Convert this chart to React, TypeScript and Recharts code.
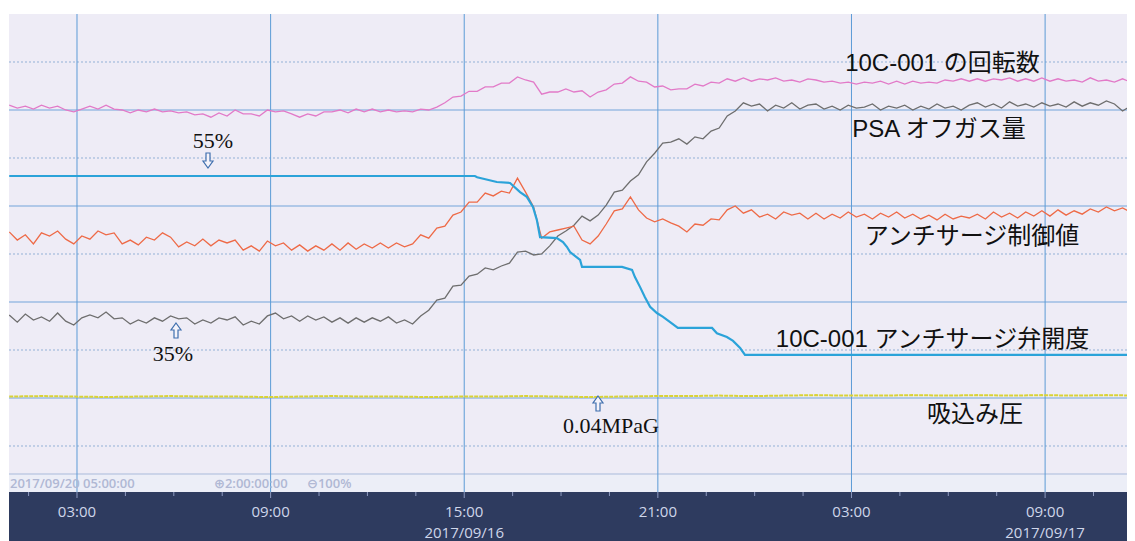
import React from 'react';
import { LineChart, Line, XAxis, YAxis, ReferenceLine, ReferenceArea } from 'recharts';

// ---- time axis (hours from 2017/09/16 00:00) ----
const xDomain: [number, number] = [0.893, 35.786];
const hourTicks = [1.5, 3, 4.5, 6, 7.5, 9, 10.5, 12, 13.5, 15, 16.5, 18, 19.5, 21, 22.5, 24, 25.5, 27, 28.5, 30, 31.5, 33, 34.5];
const labelHours = [3, 9, 15, 21, 27, 33];
const timeLabels = ['03:00', '09:00', '15:00', '21:00', '03:00', '09:00'];
const dateLabels = ['', '', '2017/09/16', '', '', '2017/09/17'];

// ---- vertical scale (percent of chart span) ----
const yDomain: [number, number] = [0.4167, 100];
const solidGridValues = [20, 40, 60, 80];
const dottedGridValues = [10, 30, 50, 70, 90];
const infoBarTop = 4.1667;

// ---- sampled trend series (every 0.25 h from 00:54) ----
const sampleStart = 0.9;
const sampleStep = 0.25;

const pinkValues = [
  81.0, 80.4, 80.8, 80.2, 81.0, 80.4, 80.8, 80.0, 79.6, 80.2,
  80.8, 80.2, 81.0, 80.2, 80.0, 79.4, 80.0, 79.6, 80.2, 79.6,
  79.8, 79.4, 79.6, 79.0, 79.2, 78.5, 79.4, 78.75, 80.0, 79.2,
  79.2, 78.75, 80.0, 79.6, 79.8, 79.2, 78.5, 79.2, 78.75, 79.6,
  79.6, 80.0, 79.4, 80.2, 79.6, 80.2, 79.6, 80.0, 79.6, 79.8,
  79.6, 80.2, 80.0, 80.6, 81.5, 82.7, 82.9, 83.9, 83.9, 84.8,
  84.8, 85.6, 85.6, 86.9, 86.25, 85.8, 83.3, 83.75, 83.75, 84.4,
  83.75, 84.0, 82.7, 83.75, 84.2, 85.4, 85.6, 86.9, 86.0, 85.8,
  84.8, 85.0, 84.2, 84.4, 84.4, 85.4, 85.0, 85.8, 85.6, 86.5,
  86.0, 86.7, 86.0, 86.5, 86.25, 86.7, 86.0, 86.25, 85.8, 86.5,
  86.25, 85.8, 86.0, 85.6, 85.8, 85.4, 85.8, 85.6, 86.0, 85.4,
  86.0, 85.4, 86.0, 85.6, 85.8, 85.6, 86.25, 86.0, 86.5, 86.0,
  86.5, 86.0, 86.5, 86.25, 86.7, 86.0, 86.5, 86.0, 86.7, 86.0,
  86.5, 86.0, 86.25, 85.8, 86.7, 86.0, 86.25, 85.8, 86.5, 85.8, 86.25,
];

const grayValues = [
  37.3, 35.8, 37.5, 36.25, 36.9, 36.0, 37.7, 36.0, 35.2, 36.7,
  37.3, 36.7, 37.9, 36.5, 36.7, 35.4, 36.25, 35.6, 36.7, 36.0,
  37.1, 36.5, 36.7, 35.4, 36.25, 35.6, 36.7, 36.25, 36.9, 35.2,
  36.0, 35.4, 37.1, 37.7, 36.5, 37.1, 36.0, 37.1, 36.25, 36.9,
  35.8, 36.7, 35.6, 36.7, 35.8, 36.7, 36.0, 36.9, 35.6, 36.25,
  35.4, 37.1, 38.3, 40.4, 40.8, 43.3, 43.5, 45.4, 45.8, 47.1,
  46.7, 47.5, 48.1, 50.4, 50.6, 49.8, 50.0, 51.7, 53.75, 54.8,
  56.0, 57.9, 56.9, 58.1, 60.2, 62.9, 63.3, 65.2, 66.5, 69.2,
  71.0, 73.1, 73.3, 74.0, 72.9, 74.4, 74.0, 75.6, 76.25, 78.75,
  79.8, 81.5, 80.8, 81.25, 79.8, 81.0, 80.4, 81.5, 80.2, 81.0,
  81.25, 80.2, 80.8, 80.0, 81.0, 80.4, 80.6, 81.25, 80.0, 80.8,
  80.4, 81.0, 80.0, 80.8, 80.2, 81.25, 80.4, 80.8, 80.0, 81.0,
  81.5, 80.6, 81.25, 80.4, 81.7, 80.8, 81.25, 80.6, 81.5, 80.8,
  81.25, 80.6, 81.7, 80.8, 81.5, 81.0, 81.9, 81.25, 79.8, 80.8, 81.25,
];

const orangeValues = [
  54.6, 52.9, 54.0, 52.1, 54.4, 53.75, 54.8, 53.1, 52.1, 53.75,
  53.1, 54.8, 54.0, 54.4, 52.1, 52.9, 51.9, 53.5, 52.9, 54.4,
  53.5, 51.5, 52.5, 51.7, 53.1, 51.7, 52.9, 52.3, 52.9, 50.8,
  51.7, 50.6, 52.7, 51.7, 52.3, 50.8, 51.9, 50.6, 51.7, 50.8,
  52.1, 50.8, 52.3, 51.0, 52.1, 51.25, 52.3, 51.25, 52.3, 51.5,
  52.1, 54.0, 53.3, 55.4, 55.8, 58.1, 58.75, 60.8, 60.8, 62.7,
  62.1, 63.1, 62.7, 65.8, 62.9, 59.8, 53.3, 54.6, 55.0, 55.4,
  55.8, 52.9, 52.1, 53.75, 56.25, 59.0, 59.4, 61.9, 59.2, 57.5,
  56.7, 57.3, 56.5, 55.8, 54.6, 56.25, 56.0, 57.3, 57.1, 59.2,
  60.0, 58.5, 59.2, 57.7, 58.3, 57.3, 58.75, 58.1, 58.5, 57.3,
  58.5, 57.3, 58.3, 57.5, 58.75, 57.7, 58.3, 57.3, 58.5, 57.7,
  58.75, 57.5, 58.3, 57.3, 58.1, 57.1, 58.3, 57.3, 57.9, 57.5,
  58.3, 57.3, 58.75, 57.7, 58.5, 57.5, 58.75, 57.9, 59.0, 57.9,
  59.2, 58.1, 59.0, 58.3, 59.4, 58.75, 59.8, 59.0, 59.6, 58.75, 59.4,
];

// ---- valve opening (stepwise) ----
const blueTimes = [
  0.9, 15.33, 15.4, 16.01, 16.42, 16.73, 16.94, 17.13, 17.25, 17.35, 17.87, 18.06, 18.18, 18.28,
  18.59, 18.65, 19.89, 20.2, 20.29, 20.45, 20.6, 20.76, 20.97, 21.16, 21.38, 21.62, 22.68, 22.83,
  23.14, 23.33, 23.55, 23.7, 35.79,
];
const blueValues = [
  66.25, 66.25, 66.0, 65.0, 64.8, 62.9, 61.9, 59.8, 57.1, 53.5, 53.3, 52.5, 51.5, 50.4,
  48.75, 47.3, 47.3, 46.7, 45.2, 43.1, 41.0, 39.0, 37.7, 36.9, 35.8, 34.6, 34.6, 33.5,
  32.7, 31.9, 30.4, 29.0, 29.0,
];

// ---- suction pressure (hourly) ----
const yellowStart = 0.9;
const yellowStep = 1;
const yellowValues = [
  20.3, 20.4, 20.3, 20.2, 20.3, 20.4, 20.3, 20.3, 20.2, 20.3, 20.4, 20.3,
  20.3, 20.2, 20.3, 20.3, 20.4, 20.3, 20.2, 20.3, 20.4, 20.4, 20.5, 20.4,
  20.5, 20.6, 20.5, 20.5, 20.6, 20.5, 20.6, 20.5, 20.6, 20.5, 20.6, 20.5,
];

const seriesRows = pinkValues.map((p, k) => ({
  t: sampleStart + sampleStep * k,
  pink: p,
  gray: grayValues[k],
  orange: orangeValues[k],
}));
const blueRows = blueTimes.map((t, i) => ({ t, valve: blueValues[i] }));
const yellowRows = yellowValues.map((v, i) => ({ t: yellowStart + yellowStep * i, suction: v }));

const W = 1127;
const H = 533;

const AxisTick = (props: any) => {
  const { x, y, payload } = props;
  const h = payload.value;
  const i = labelHours.indexOf(h);
  const font = "'Open Sans', 'DejaVu Sans', sans-serif";
  return (
    <g>
      <line x1={x} x2={x} y1={y} y2={y + (i >= 0 ? 6 : 4)} stroke="#8e9ac0" strokeWidth={1} />
      {i >= 0 && (
        <text x={x} y={y + 19} textAnchor="middle" dominantBaseline="central" fill="#cfd6ea" fontSize={15} fontFamily={font}>
          {timeLabels[i]}
        </text>
      )}
      {i >= 0 && dateLabels[i] !== '' && (
        <text x={x} y={y + 40} textAnchor="middle" dominantBaseline="central" fill="#cfd6ea" fontSize={15} fontFamily={font}>
          {dateLabels[i]}
        </text>
      )}
    </g>
  );
};

const sansJP = "'Liberation Sans', Arial, 'Noto Sans CJK JP', sans-serif";
const serif = "'Liberation Serif', 'DejaVu Serif', serif";

const DownArrow = ({ cx, top }: { cx: number; top: number }) => (
  <path
    d={`M${cx - 2},${top} L${cx + 2},${top} L${cx + 2},${top + 8} L${cx + 5},${top + 8} L${cx},${top + 15} L${cx - 5},${top + 8} L${cx - 2},${top + 8} Z`}
    fill="#f4f3fa"
    stroke="#3f6fae"
    strokeWidth={1.2}
  />
);
const UpArrow = ({ cx, top }: { cx: number; top: number }) => (
  <path
    d={`M${cx},${top} L${cx + 5},${top + 7} L${cx + 2},${top + 7} L${cx + 2},${top + 15} L${cx - 2},${top + 15} L${cx - 2},${top + 7} L${cx - 5},${top + 7} Z`}
    fill="#f4f3fa"
    stroke="#3f6fae"
    strokeWidth={1.2}
  />
);

export default function App() {
  return (
    <div style={{ position: 'relative', width: W, height: H, background: '#ffffff' }}>
      <div style={{ position: 'absolute', left: 1, top: 6, width: W - 1, height: 478, background: '#eeecf6' }} />
      <div style={{ position: 'absolute', left: 1, top: 484, width: W - 1, height: H - 484, background: '#2e3b5f' }} />
      <div style={{ position: 'absolute', left: 0, top: 0 }}>
        <LineChart width={W} height={H} data={seriesRows} margin={{ top: 6, right: 0, bottom: 0, left: 1 }}>
          <XAxis
            type="number"
            dataKey="t"
            domain={xDomain}
            allowDataOverflow
            ticks={hourTicks}
            interval={0}
            tick={<AxisTick />}
            tickLine={false}
            axisLine={false}
            tickSize={0}
            tickMargin={0}
            height={49}
          />
          <YAxis type="number" domain={yDomain} allowDataOverflow hide />
          <ReferenceArea y1={yDomain[0]} y2={infoBarTop} fill="#eceef7" fillOpacity={1} stroke="none" />
          <ReferenceLine y={infoBarTop} stroke="#a9badb" strokeWidth={1} />
          {dottedGridValues.map((v) => (
            <ReferenceLine key={'d' + v} y={v} stroke="#93b1d6" strokeWidth={1} strokeDasharray="2 2" />
          ))}
          {solidGridValues.map((v) => (
            <ReferenceLine key={'s' + v} y={v} stroke="#73a4da" strokeWidth={1} />
          ))}
          {labelHours.map((h) => (
            <ReferenceLine key={'v' + h} x={h} stroke="#5c9bd6" strokeWidth={1} />
          ))}
          <Line data={yellowRows} dataKey="suction" type="linear" stroke="#d9d236" strokeWidth={2} strokeDasharray="4 1" dot={false} activeDot={false} isAnimationActive={false} />
          <Line dataKey="pink" type="linear" stroke="#e27ac8" strokeWidth={1.3} dot={false} activeDot={false} isAnimationActive={false} />
          <Line dataKey="gray" type="linear" stroke="#6e6e6e" strokeWidth={1.3} dot={false} activeDot={false} isAnimationActive={false} />
          <Line dataKey="orange" type="linear" stroke="#ee6a47" strokeWidth={1.3} dot={false} activeDot={false} isAnimationActive={false} />
          <Line data={blueRows} dataKey="valve" type="linear" stroke="#2ba3d9" strokeWidth={2.2} dot={false} activeDot={false} isAnimationActive={false} />
        </LineChart>
      </div>
      <div style={{ position: 'absolute', left: 1, top: 466, width: 420, height: 18, overflow: 'hidden', lineHeight: '18px', fontFamily: "'Open Sans', 'DejaVu Sans', sans-serif", fontSize: 13, fontWeight: 600, color: '#b0b8d4', whiteSpace: 'pre' }}>
        <span style={{ position: 'absolute', left: 1 }}>2017/09/20 05:00:00</span>
        <span style={{ position: 'absolute', left: 205 }}>⊕2:00:00:00</span>
        <span style={{ position: 'absolute', left: 298 }}>⊖100%</span>
      </div>
      <svg width={W} height={H} style={{ position: 'absolute', left: 0, top: 0, pointerEvents: 'none' }}>
        <g fontFamily={sansJP} fontSize={24} fill="#111111" textAnchor="middle" dominantBaseline="central">
          <text x={934.5} y={54}>10C-001 の回転数</text>
          <text x={931} y={120}>PSA オフガス量</text>
          <text x={964} y={227}>アンチサージ制御値</text>
          <text x={924.5} y={330}>10C-001 アンチサージ弁開度</text>
          <text x={967} y={405}>吸込み圧</text>
        </g>
        <g fontFamily={serif} fontSize={22} fill="#111111" textAnchor="middle" dominantBaseline="central">
          <text x={205} y={132}>55%</text>
          <text x={165} y={345}>35%</text>
          <text x={603} y={417}>0.04MPaG</text>
        </g>
        <DownArrow cx={200} top={145} />
        <UpArrow cx={168} top={315} />
        <UpArrow cx={590} top={388} />
      </svg>
    </div>
  );
}
